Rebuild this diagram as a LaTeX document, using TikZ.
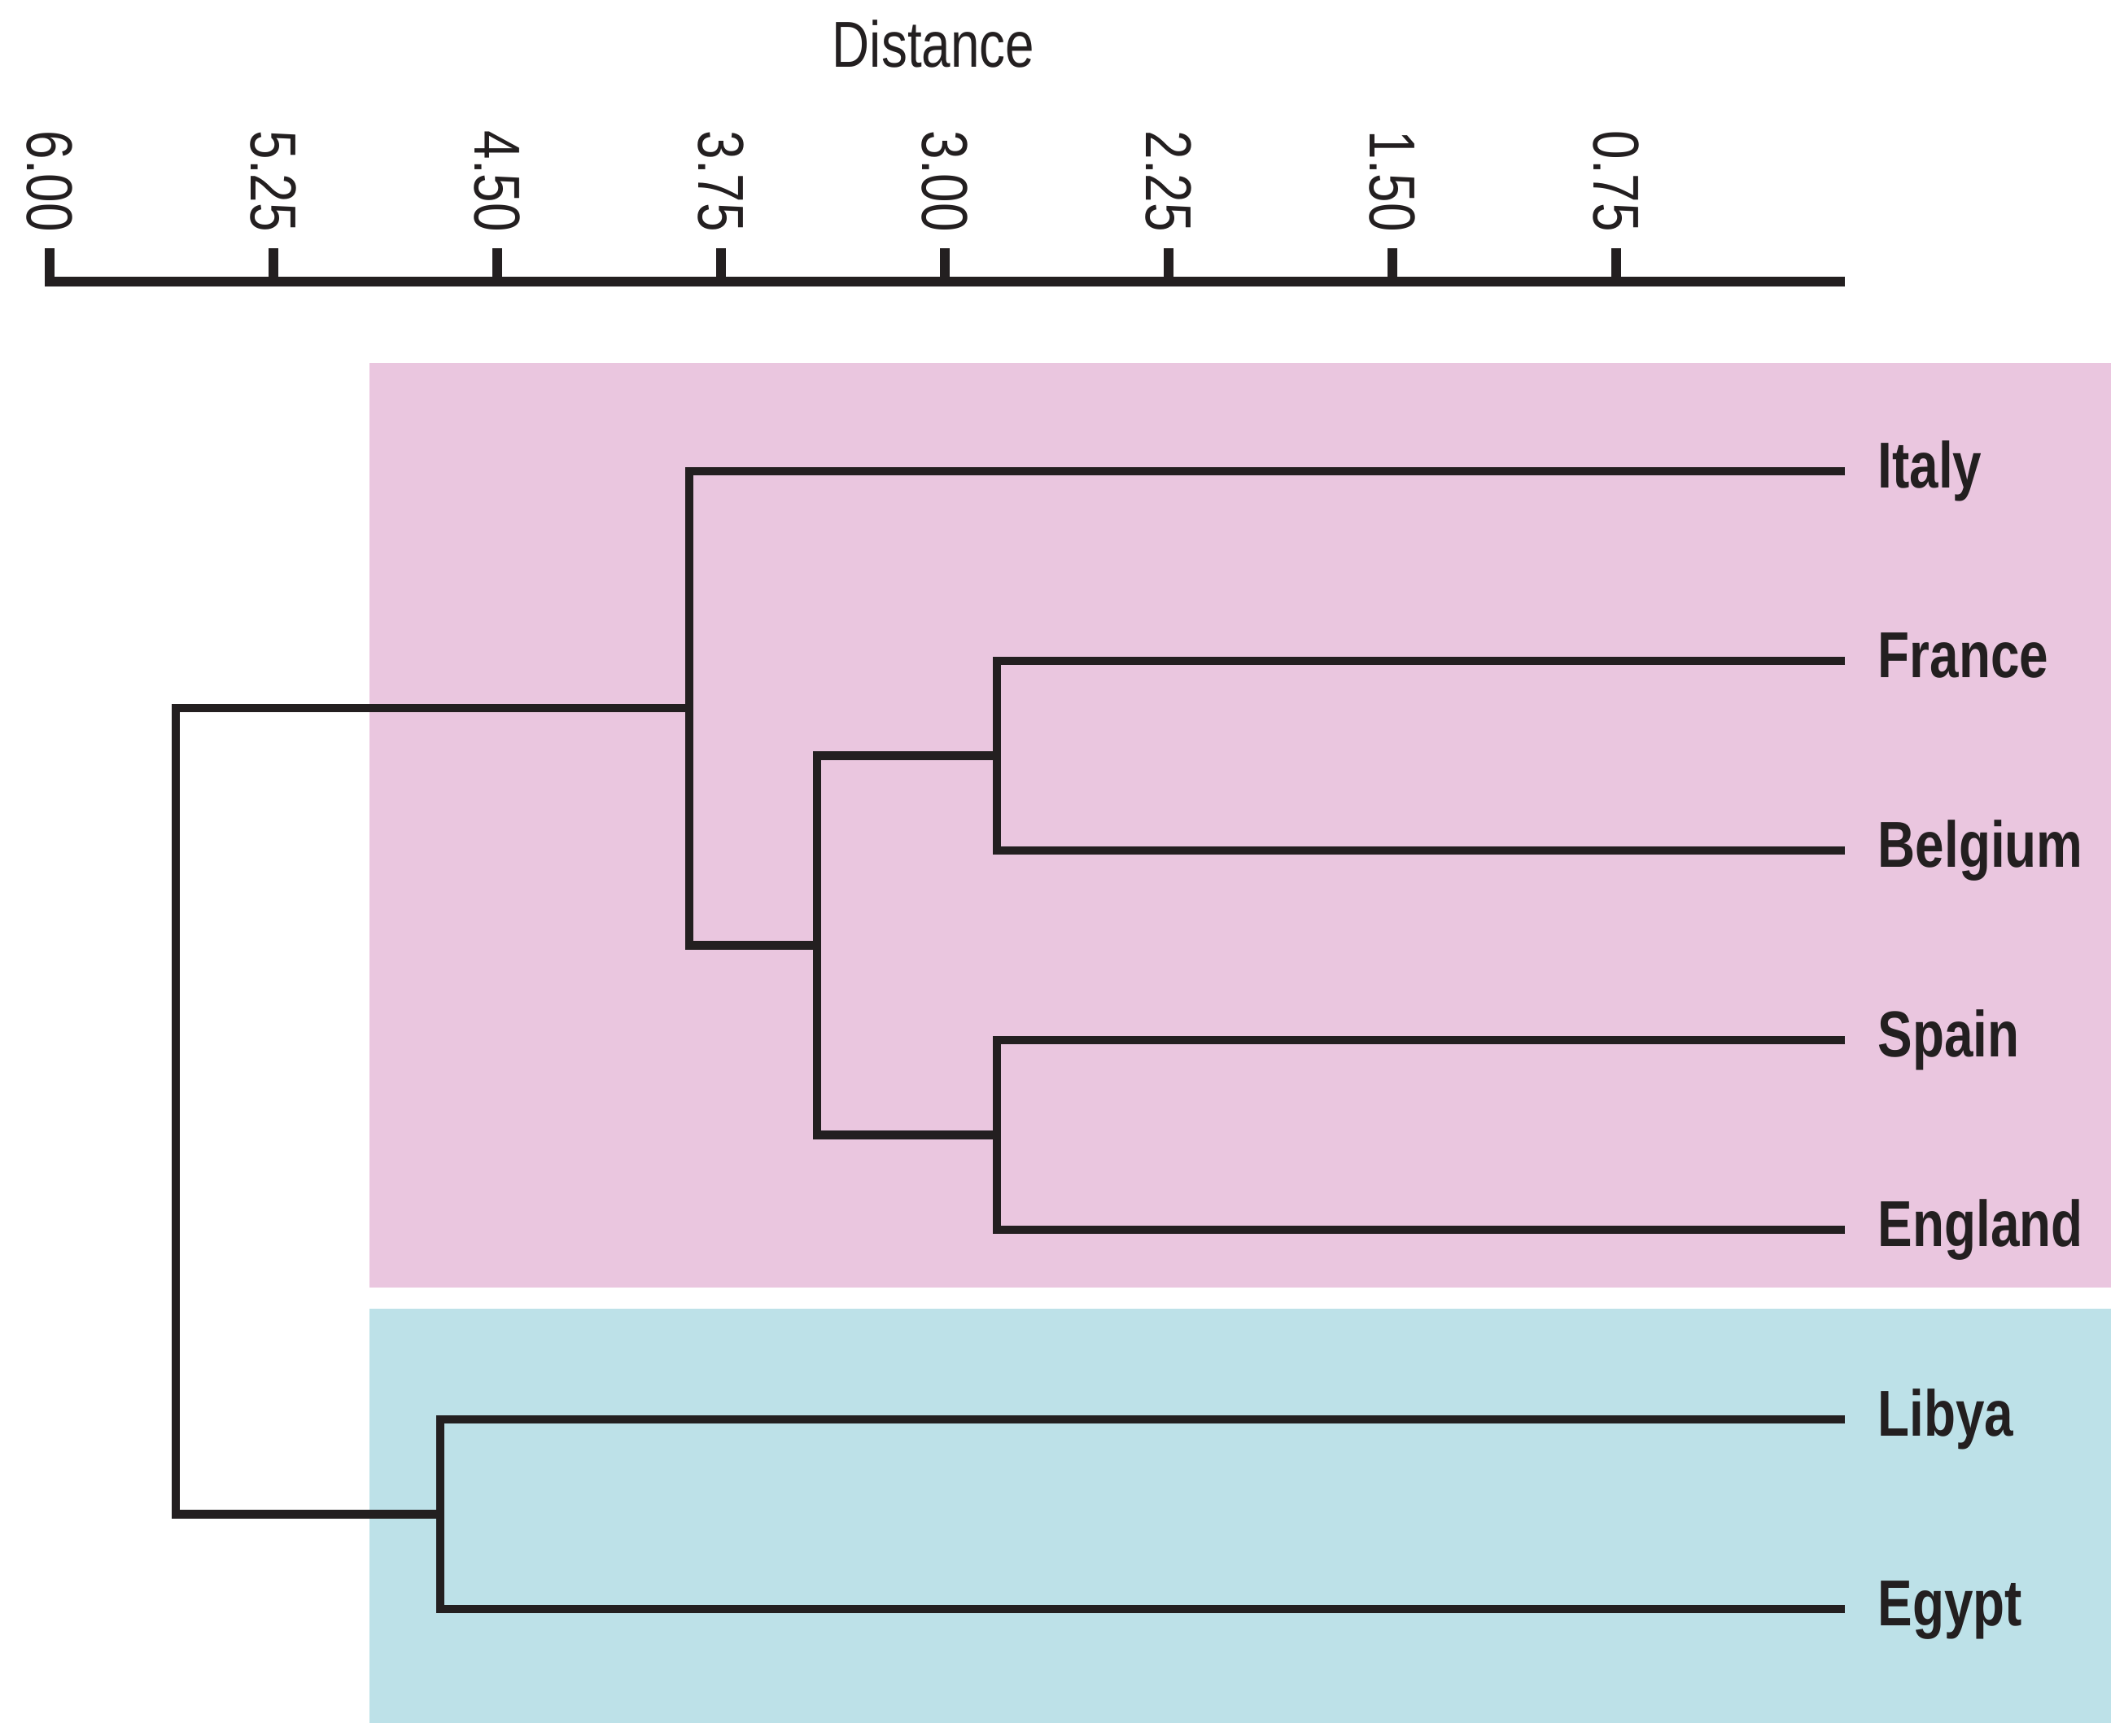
\documentclass[tikz,border=0pt]{standalone}
\usepackage{fontspec}
\setmainfont{Liberation Sans}[FakeStretch=0.8]
\usetikzlibrary{positioning}
\definecolor{pinkbg}{RGB}{234,198,223}
\definecolor{bluebg}{RGB}{189,225,232}
\definecolor{ink}{RGB}{35,31,32}
\newcommand{\figfont}{\fontsize{22.7pt}{27pt}\selectfont}
\tikzset{
  axisline/.style={ink, line width=3.4pt},
  ticklabel/.style={rotate=-90, anchor=west, inner sep=0pt, text=ink},
  leaf/.style={inner sep=0pt, text height=0.4cm, text depth=0pt, text=ink, font=\figfont\bfseries},
  branch/.style={ink, line width=2.9pt, line join=miter}
}
\begin{document}
\begin{tikzpicture}[font=\figfont]
  \useasboundingbox (0,0) rectangle (26.10,-21.32);
  \fill[pinkbg] (4.54,-4.46) rectangle (25.94,-15.82);
  \fill[bluebg] (4.54,-16.08) rectangle (25.94,-21.17);

  \node[anchor=base, text=ink] (dist) at (11.47,-0.82) {Distance};
  \draw[axisline] (0.55,-3.46) -- (22.67,-3.46);
  \foreach \lab [count=\i from 0] in {6.00,5.25,4.50,3.75,3.00,2.25,1.50,0.75} {
    \node[ticklabel] (t\i) at (0.61+2.75*\i,-1.60) {\lab};
    \draw[axisline] (0.61+2.75*\i,-3.05) -- (0.61+2.75*\i,-3.46);
  }

  \coordinate (it) at (22.67,-5.79);
  \coordinate (fr) at (22.67,-8.12);
  \coordinate (be) at (22.67,-10.45);
  \coordinate (sp) at (22.67,-12.78);
  \coordinate (en) at (22.67,-15.11);
  \coordinate (li) at (22.67,-17.44);
  \coordinate (eg) at (22.67,-19.77);

  \node[leaf, right=0.4cm of it] (itl) {Italy};
  \node[leaf, right=0.4cm of fr] (frl) {France};
  \node[leaf, right=0.4cm of be] (bel) {Belgium};
  \node[leaf, right=0.4cm of sp] (spl) {Spain};
  \node[leaf, right=0.4cm of en] (enl) {England};
  \node[leaf, right=0.4cm of li] (lil) {Libya};
  \node[leaf, right=0.4cm of eg] (egl) {Egypt};

  \coordinate (frbe) at (12.25,-9.285);
  \coordinate (spen) at (12.25,-13.945);
  \coordinate (west) at (10.04,-11.615);
  \coordinate (euro) at (8.47,-8.7025);
  \coordinate (afr) at (5.41,-18.605);
  \coordinate (root) at (2.16,-13.65);

  \begin{scope}[branch]
    \draw (fr) -| (frbe) |- (be);
    \draw (sp) -| (spen) |- (en);
    \draw (frbe) -| (west) |- (spen);
    \draw (it) -| (euro) |- (west);
    \draw (li) -| (afr) |- (eg);
    \draw (euro) -| (root) |- (afr);
  \end{scope}
\end{tikzpicture}
\end{document}
